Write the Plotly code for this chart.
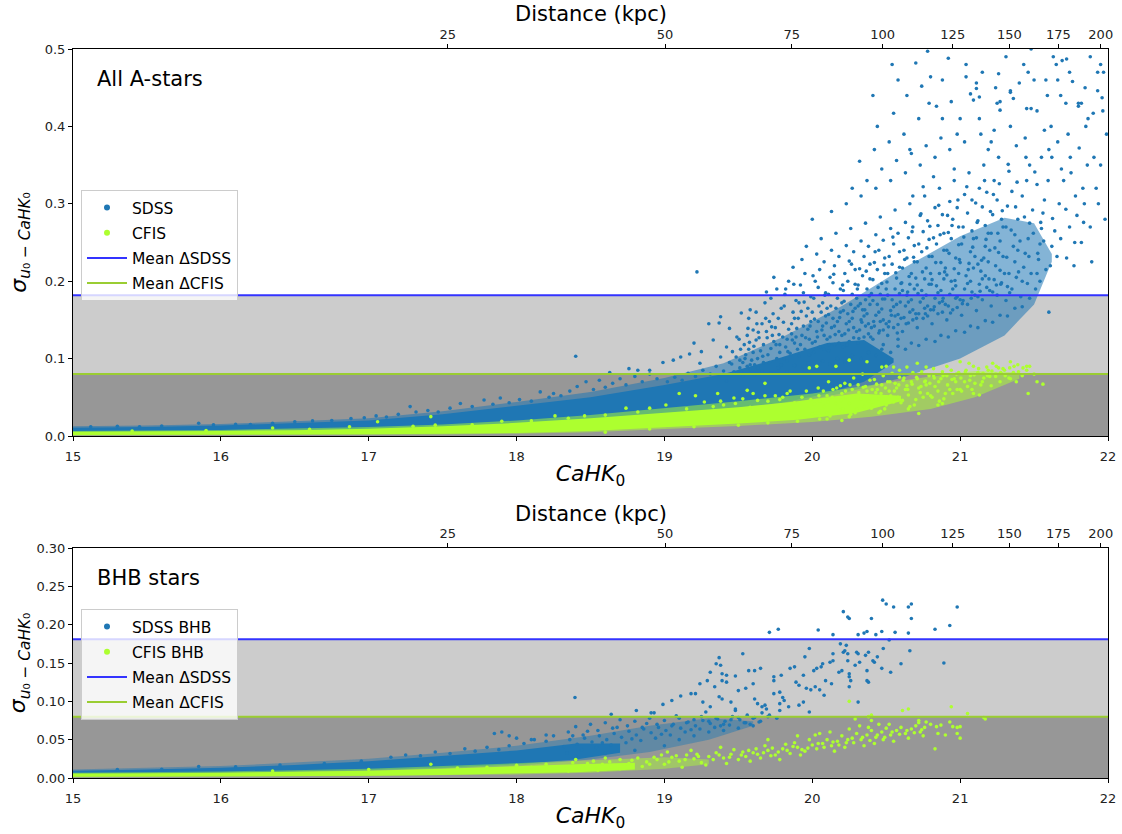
import plotly.graph_objects as go

FONT = "DejaVu Sans"

# ---------------- axis ticks ----------------
mag_ticks = [15, 16, 17, 18, 19, 20, 21, 22]
dist_labels = ["25", "50", "75", "100", "125", "150", "175", "200"]
dist_mag = [17.534, 19.004, 19.861, 20.476, 20.950, 21.333, 21.664, 21.951]
sigma_ticks_a = [0.0, 0.1, 0.2, 0.3, 0.4, 0.5]
sigma_ticks_b = [0.00, 0.05, 0.10, 0.15, 0.20, 0.25, 0.30]

# ---------------- mean offsets ----------------
mean_sdss_a = 0.182
mean_cfis_a = 0.080
mean_sdss_b = 0.181
mean_cfis_b = 0.080

# ---------------- density envelopes of the point clouds ----------------
# saturated core (every pixel covered)
sdss_a_core_m = [15.0, 15.5, 16.0, 16.5, 17.0, 17.5, 18.0, 18.5, 19.0, 19.4, 19.8, 20.1, 20.35, 20.55]
sdss_a_core_lo = [0.0050, 0.0055, 0.0060, 0.0070, 0.0085, 0.011, 0.015, 0.021, 0.029, 0.035, 0.043, 0.055, 0.070, 0.095]
sdss_a_core_hi = [0.0105, 0.0115, 0.0135, 0.0165, 0.0200, 0.028, 0.039, 0.050, 0.066, 0.080, 0.102, 0.120, 0.124, 0.100]
# crowded margin around the core
sdss_a_dense_m = [15.0, 15.5, 16.0, 16.5, 17.0, 17.5, 18.0, 18.5, 19.0, 19.4, 19.8, 20.2, 20.6, 21.0, 21.3, 21.5, 21.62]
sdss_a_dense_lo = [0.004, 0.0045, 0.005, 0.006, 0.0075, 0.0095, 0.013, 0.019, 0.027, 0.033, 0.041, 0.055, 0.075, 0.100, 0.130, 0.170, 0.225]
sdss_a_dense_hi = [0.0125, 0.0135, 0.0155, 0.019, 0.023, 0.032, 0.044, 0.057, 0.075, 0.094, 0.128, 0.168, 0.215, 0.258, 0.282, 0.275, 0.235]

cfis_a_core_m = [15.0, 15.5, 16.0, 16.5, 17.0, 17.5, 18.0, 18.5, 19.0, 19.5, 19.9, 20.3, 20.6]
cfis_a_core_lo = [0.0012, 0.0013, 0.0015, 0.0018, 0.0022, 0.0030, 0.0040, 0.0065, 0.011, 0.016, 0.021, 0.030, 0.045]
cfis_a_core_hi = [0.0055, 0.0060, 0.0065, 0.0075, 0.0095, 0.0125, 0.0170, 0.0230, 0.030, 0.037, 0.045, 0.055, 0.052]
cfis_a_dense_m = [15.0, 16.0, 17.0, 17.5, 18.0, 18.5, 19.0, 19.5, 20.0, 20.4, 20.8, 21.1, 21.4]
cfis_a_dense_lo = [0.0008, 0.0010, 0.0015, 0.0020, 0.0030, 0.0050, 0.009, 0.013, 0.018, 0.025, 0.035, 0.050, 0.074]
cfis_a_dense_hi = [0.0065, 0.0078, 0.0115, 0.0150, 0.0200, 0.0270, 0.036, 0.045, 0.055, 0.066, 0.077, 0.084, 0.082]

sdss_b_core_m = [15.0, 15.5, 16.0, 16.5, 17.0, 17.5, 18.0, 18.4, 18.7]
sdss_b_core_lo = [0.0045, 0.0055, 0.0068, 0.0085, 0.0105, 0.0135, 0.018, 0.024, 0.033]
sdss_b_core_hi = [0.0095, 0.0110, 0.0135, 0.0170, 0.0220, 0.0290, 0.036, 0.045, 0.045]
sdss_b_dense_m = [15.0, 16.0, 17.0, 17.5, 18.0, 18.5, 18.9, 19.3, 19.6]
sdss_b_dense_lo = [0.0035, 0.0058, 0.009, 0.012, 0.016, 0.024, 0.034, 0.050, 0.068]
sdss_b_dense_hi = [0.0110, 0.0155, 0.025, 0.033, 0.042, 0.055, 0.068, 0.078, 0.074]

cfis_b_core_m = [15.0, 15.5, 16.0, 16.5, 17.0, 17.5, 18.0, 18.4, 18.8]
cfis_b_core_lo = [0.0015, 0.0017, 0.0020, 0.0025, 0.0030, 0.0040, 0.0055, 0.0075, 0.011]
cfis_b_core_hi = [0.0058, 0.0063, 0.0070, 0.0080, 0.0095, 0.0120, 0.0150, 0.0180, 0.020]
cfis_b_dense_m = [15.0, 16.0, 17.0, 18.0, 18.5, 19.0, 19.3]
cfis_b_dense_lo = [0.0010, 0.0015, 0.0025, 0.0045, 0.007, 0.012, 0.018]
cfis_b_dense_hi = [0.0068, 0.0085, 0.0120, 0.0190, 0.023, 0.027, 0.024]

# ---------------- individual stars (CaHK0, sigma) ----------------
sdss_a_pts = [
    (15.12, 0.012), (15.30, 0.0125), (15.45, 0.0118), (15.60, 0.013), (15.85, 0.0165), (15.95, 0.0145),
    (16.10, 0.015), (16.20, 0.0148), (16.35, 0.0165), (16.50, 0.0185), (16.62, 0.0195), (16.75, 0.020),
    (16.88, 0.0225), (16.97, 0.0235), (17.05, 0.026), (17.12, 0.0245), (17.20, 0.028), (17.28, 0.038),
    (17.32, 0.031), (17.40, 0.033), (17.47, 0.031), (17.55, 0.036), (17.62, 0.042), (17.70, 0.038),
    (17.78, 0.0465), (17.84, 0.041), (17.89, 0.049), (17.95, 0.043), (18.02, 0.047), (18.10, 0.045),
    (18.16, 0.057), (18.22, 0.050), (18.25, 0.055), (18.30, 0.052), (18.36, 0.058), (18.41, 0.064),
    (18.47, 0.070), (18.52, 0.060), (18.56, 0.072), (18.60, 0.063), (18.65, 0.068), (18.70, 0.074),
    (18.74, 0.066), (18.80, 0.077), (18.85, 0.070), (18.90, 0.080), (18.95, 0.074),
    (18.40, 0.103), (18.63, 0.082), (18.76, 0.087), (18.82, 0.085), (18.90, 0.085), (18.99, 0.095),
    (19.06, 0.098), (19.11, 0.102), (19.17, 0.106), (19.20, 0.120), (19.25, 0.109), (19.30, 0.145),
    (19.38, 0.154), (19.37, 0.146), (19.44, 0.139), (19.52, 0.159), (19.58, 0.163), (19.57, 0.152),
    (19.49, 0.128), (19.33, 0.124), (19.42, 0.115), (19.46, 0.109), (19.60, 0.137), (19.62, 0.124),
    (19.51, 0.098), (19.38, 0.102), (19.24, 0.094), (19.56, 0.090), (19.22, 0.212),
    (19.02, 0.070), (19.07, 0.076), (19.12, 0.072), (19.16, 0.081), (19.21, 0.077), (19.26, 0.085),
    (19.31, 0.080), (19.35, 0.090), (19.40, 0.084), (19.44, 0.095),
    (19.51, 0.088), (19.53, 0.095), (19.55, 0.105), (19.57, 0.112), (19.54, 0.118), (19.59, 0.098),
    (19.56, 0.130), (19.52, 0.082), (19.58, 0.092), (19.60, 0.108),
    (19.61, 0.092), (19.63, 0.100), (19.65, 0.110), (19.67, 0.118), (19.64, 0.127), (19.69, 0.135),
    (19.66, 0.145), (19.62, 0.160), (19.68, 0.172), (19.70, 0.105), (19.63, 0.088), (19.67, 0.095),
    (19.69, 0.186),
    (19.71, 0.095), (19.72, 0.113), (19.74, 0.122), (19.73, 0.130), (19.76, 0.100), (19.75, 0.140),
    (19.77, 0.152), (19.78, 0.118), (19.79, 0.165), (19.72, 0.178), (19.76, 0.190), (19.80, 0.128),
    (19.74, 0.205), (19.78, 0.108), (19.71, 0.148), (19.79, 0.092),
    (19.81, 0.100), (19.82, 0.115), (19.83, 0.125), (19.84, 0.138), (19.85, 0.107), (19.86, 0.145),
    (19.87, 0.160), (19.88, 0.120), (19.89, 0.175), (19.82, 0.190), (19.86, 0.132), (19.84, 0.200),
    (19.90, 0.112), (19.88, 0.152), (19.83, 0.097), (19.87, 0.218), (19.81, 0.168), (19.89, 0.128),
    (19.91, 0.103), (19.92, 0.118), (19.93, 0.130), (19.94, 0.142), (19.95, 0.112), (19.96, 0.155),
    (19.97, 0.165), (19.98, 0.125), (19.99, 0.180), (19.92, 0.195), (19.95, 0.210), (19.97, 0.138),
    (19.93, 0.228), (20.00, 0.120), (19.99, 0.148), (19.91, 0.172), (19.96, 0.245), (19.98, 0.105),
    (19.94, 0.185), (20.00, 0.160),
    (20.01, 0.108), (20.02, 0.122), (20.03, 0.135), (20.04, 0.148), (20.05, 0.115), (20.06, 0.160),
    (20.07, 0.172), (20.08, 0.130), (20.09, 0.185), (20.02, 0.200), (20.05, 0.215), (20.07, 0.142),
    (20.03, 0.235), (20.10, 0.125), (20.09, 0.155), (20.01, 0.178), (20.06, 0.255), (20.08, 0.112),
    (20.04, 0.192), (20.10, 0.165), (20.00, 0.280), (20.08, 0.225),
    (20.11, 0.110), (20.12, 0.128), (20.13, 0.140), (20.14, 0.152), (20.15, 0.118), (20.16, 0.165),
    (20.17, 0.178), (20.18, 0.135), (20.19, 0.190), (20.12, 0.205), (20.15, 0.220), (20.17, 0.148),
    (20.13, 0.240), (20.20, 0.130), (20.19, 0.160), (20.11, 0.183), (20.16, 0.262), (20.18, 0.120),
    (20.14, 0.198), (20.20, 0.172), (20.13, 0.290), (20.18, 0.232), (20.15, 0.142), (20.11, 0.157),
    (20.21, 0.115), (20.22, 0.132), (20.23, 0.145), (20.24, 0.158), (20.25, 0.122), (20.26, 0.170),
    (20.27, 0.183), (20.28, 0.140), (20.29, 0.196), (20.22, 0.210), (20.25, 0.226), (20.27, 0.152),
    (20.23, 0.246), (20.30, 0.135), (20.29, 0.165), (20.21, 0.188), (20.26, 0.268), (20.28, 0.127),
    (20.24, 0.200), (20.30, 0.178), (20.23, 0.300), (20.28, 0.238), (20.25, 0.148), (20.21, 0.162),
    (20.27, 0.320), (20.29, 0.215),
    (20.31, 0.120), (20.32, 0.137), (20.33, 0.150), (20.34, 0.163), (20.35, 0.128), (20.36, 0.176),
    (20.37, 0.190), (20.38, 0.145), (20.39, 0.203), (20.32, 0.216), (20.35, 0.232), (20.37, 0.158),
    (20.33, 0.252), (20.40, 0.140), (20.39, 0.170), (20.31, 0.195), (20.36, 0.275), (20.38, 0.132),
    (20.34, 0.207), (20.40, 0.184), (20.33, 0.310), (20.38, 0.245), (20.35, 0.155), (20.31, 0.168),
    (20.37, 0.330), (20.39, 0.222), (20.32, 0.355), (20.36, 0.142),
    (20.41, 0.125), (20.42, 0.142), (20.43, 0.156), (20.44, 0.170), (20.45, 0.133), (20.46, 0.183),
    (20.47, 0.197), (20.48, 0.150), (20.49, 0.210), (20.42, 0.224), (20.45, 0.240), (20.47, 0.164),
    (20.43, 0.260), (20.50, 0.145), (20.49, 0.177), (20.41, 0.202), (20.46, 0.283), (20.48, 0.137),
    (20.44, 0.215), (20.50, 0.190), (20.43, 0.320), (20.48, 0.253), (20.45, 0.160), (20.41, 0.175),
    (20.47, 0.345), (20.49, 0.230), (20.42, 0.370), (20.46, 0.148), (20.44, 0.400), (20.48, 0.118),
    (20.51, 0.130), (20.52, 0.148), (20.53, 0.162), (20.54, 0.176), (20.55, 0.140), (20.56, 0.190),
    (20.57, 0.204), (20.58, 0.157), (20.59, 0.218), (20.52, 0.232), (20.55, 0.248), (20.57, 0.170),
    (20.53, 0.268), (20.60, 0.152), (20.59, 0.184), (20.51, 0.210), (20.56, 0.292), (20.58, 0.144),
    (20.54, 0.222), (20.60, 0.197), (20.53, 0.330), (20.58, 0.262), (20.55, 0.167), (20.51, 0.182),
    (20.57, 0.356), (20.59, 0.238), (20.52, 0.380), (20.56, 0.155), (20.54, 0.480), (20.58, 0.125),
    (20.55, 0.417),
    (20.61, 0.135), (20.62, 0.153), (20.63, 0.168), (20.64, 0.182), (20.65, 0.146), (20.66, 0.196),
    (20.67, 0.210), (20.68, 0.163), (20.69, 0.225), (20.62, 0.240), (20.65, 0.256), (20.67, 0.176),
    (20.63, 0.276), (20.70, 0.158), (20.69, 0.190), (20.61, 0.217), (20.66, 0.300), (20.68, 0.150),
    (20.64, 0.230), (20.70, 0.204), (20.63, 0.340), (20.68, 0.270), (20.65, 0.173), (20.61, 0.188),
    (20.67, 0.365), (20.69, 0.246), (20.62, 0.390), (20.66, 0.160), (20.64, 0.440), (20.70, 0.482),
    (20.68, 0.310),
    (20.71, 0.140), (20.72, 0.158), (20.73, 0.173), (20.74, 0.188), (20.75, 0.152), (20.76, 0.203),
    (20.77, 0.217), (20.78, 0.168), (20.79, 0.232), (20.72, 0.248), (20.75, 0.264), (20.77, 0.182),
    (20.73, 0.285), (20.80, 0.163), (20.79, 0.196), (20.71, 0.225), (20.76, 0.310), (20.78, 0.155),
    (20.74, 0.238), (20.80, 0.210), (20.73, 0.350), (20.78, 0.278), (20.75, 0.178), (20.71, 0.195),
    (20.77, 0.375), (20.79, 0.254), (20.72, 0.410), (20.76, 0.165), (20.74, 0.452), (20.78, 0.497),
    (20.80, 0.464), (20.75, 0.322),
    (20.81, 0.145), (20.82, 0.163), (20.83, 0.178), (20.84, 0.194), (20.85, 0.158), (20.86, 0.210),
    (20.87, 0.224), (20.88, 0.174), (20.89, 0.240), (20.82, 0.256), (20.85, 0.272), (20.87, 0.188),
    (20.83, 0.295), (20.90, 0.170), (20.89, 0.203), (20.81, 0.232), (20.86, 0.320), (20.88, 0.160),
    (20.84, 0.426), (20.90, 0.217), (20.83, 0.360), (20.88, 0.286), (20.85, 0.185), (20.81, 0.202),
    (20.87, 0.385), (20.89, 0.262), (20.82, 0.335), (20.86, 0.172), (20.84, 0.248), (20.88, 0.410),
    (20.91, 0.150), (20.92, 0.168), (20.93, 0.183), (20.94, 0.200), (20.95, 0.163), (20.96, 0.216),
    (20.97, 0.230), (20.98, 0.180), (20.99, 0.247), (20.92, 0.263), (20.95, 0.280), (20.97, 0.194),
    (20.93, 0.303), (21.00, 0.176), (20.99, 0.210), (20.91, 0.240), (20.96, 0.330), (20.98, 0.166),
    (20.94, 0.432), (21.00, 0.224), (20.93, 0.370), (20.98, 0.295), (20.95, 0.190), (20.91, 0.208),
    (20.92, 0.488), (20.99, 0.270), (20.96, 0.345), (20.97, 0.178), (20.94, 0.255), (20.98, 0.390),
    (21.01, 0.156), (21.02, 0.175), (21.03, 0.190), (21.04, 0.207), (21.05, 0.170), (21.06, 0.223),
    (21.07, 0.238), (21.08, 0.186), (21.09, 0.255), (21.02, 0.270), (21.05, 0.288), (21.07, 0.200),
    (21.03, 0.312), (21.10, 0.182), (21.09, 0.217), (21.01, 0.248), (21.06, 0.340), (21.04, 0.480),
    (21.04, 0.464), (21.10, 0.232), (21.03, 0.380), (21.08, 0.305), (21.05, 0.197), (21.07, 0.442),
    (21.09, 0.434), (21.11, 0.456), (21.11, 0.449), (21.08, 0.265),
    (21.11, 0.162), (21.12, 0.180), (21.13, 0.196), (21.14, 0.213), (21.15, 0.176), (21.16, 0.230),
    (21.17, 0.245), (21.18, 0.192), (21.19, 0.262), (21.12, 0.278), (21.15, 0.296), (21.17, 0.207),
    (21.13, 0.320), (21.20, 0.188), (21.19, 0.225), (21.11, 0.256), (21.16, 0.350), (21.13, 0.438),
    (21.14, 0.390), (21.20, 0.240), (21.13, 0.410), (21.18, 0.315), (21.15, 0.203), (21.17, 0.272),
    (21.19, 0.370), (21.12, 0.222),
    (21.21, 0.168), (21.22, 0.186), (21.23, 0.202), (21.24, 0.220), (21.25, 0.182), (21.26, 0.237),
    (21.27, 0.252), (21.28, 0.198), (21.29, 0.270), (21.22, 0.286), (21.25, 0.305), (21.27, 0.214),
    (21.23, 0.330), (21.26, 0.468), (21.24, 0.450), (21.25, 0.430), (21.27, 0.432), (21.27, 0.421),
    (21.29, 0.232), (21.21, 0.262), (21.26, 0.360), (21.28, 0.280), (21.23, 0.395), (21.30, 0.210),
    (21.31, 0.175), (21.32, 0.193), (21.33, 0.210), (21.34, 0.446), (21.34, 0.444), (21.35, 0.190),
    (21.36, 0.436), (21.37, 0.260), (21.38, 0.205), (21.39, 0.280), (21.32, 0.297), (21.35, 0.316),
    (21.37, 0.225), (21.33, 0.342), (21.36, 0.245), (21.31, 0.270), (21.38, 0.375), (21.40, 0.456),
    (21.34, 0.400), (21.39, 0.240),
    (21.41, 0.180), (21.42, 0.200), (21.43, 0.218), (21.44, 0.236), (21.45, 0.423), (21.48, 0.423),
    (21.46, 0.255), (21.47, 0.275), (21.48, 0.210), (21.49, 0.292), (21.42, 0.310), (21.45, 0.330),
    (21.47, 0.350), (21.43, 0.480), (21.46, 0.470), (21.48, 0.500), (21.50, 0.460), (21.44, 0.385),
    (21.51, 0.190), (21.52, 0.210), (21.53, 0.228), (21.54, 0.248), (21.55, 0.268), (21.56, 0.288),
    (21.57, 0.305), (21.58, 0.460), (21.59, 0.440), (21.52, 0.325), (21.55, 0.360), (21.58, 0.215),
    (21.60, 0.160), (21.57, 0.395), (21.54, 0.200),
    (21.61, 0.220), (21.62, 0.245), (21.63, 0.490), (21.64, 0.265), (21.65, 0.480), (21.66, 0.460),
    (21.67, 0.300), (21.68, 0.440), (21.69, 0.485), (21.70, 0.330), (21.62, 0.360), (21.66, 0.380),
    (21.68, 0.255), (21.72, 0.487),
    (21.72, 0.230), (21.74, 0.270), (21.76, 0.458), (21.78, 0.310), (21.80, 0.426), (21.80, 0.430),
    (21.75, 0.340), (21.73, 0.390), (21.79, 0.285), (21.77, 0.220),
    (21.82, 0.250), (21.84, 0.300), (21.86, 0.350), (21.88, 0.270), (21.90, 0.417), (21.85, 0.400),
    (21.83, 0.320), (21.89, 0.225),
    (21.93, 0.470), (21.95, 0.480), (21.97, 0.470), (21.93, 0.446), (21.96, 0.437), (21.92, 0.320),
    (21.95, 0.350), (21.98, 0.280), (21.99, 0.390),
    # crowded lower rim and interior of the faint cloud
    (19.42, 0.071), (19.47, 0.083), (19.53, 0.077), (19.58, 0.086), (19.61, 0.079), (19.66, 0.084),
    (19.72, 0.081), (19.77, 0.088), (19.83, 0.083), (19.88, 0.091), (19.93, 0.087), (19.97, 0.094),
    (20.03, 0.090), (20.07, 0.097), (20.12, 0.093), (20.17, 0.100), (20.22, 0.096), (20.27, 0.104),
    (20.33, 0.100), (20.38, 0.108), (20.43, 0.104), (20.47, 0.112), (20.53, 0.108), (20.58, 0.116),
    (20.63, 0.112), (20.67, 0.120), (20.72, 0.117), (20.77, 0.125), (20.83, 0.122), (20.87, 0.130),
    (20.92, 0.128), (20.97, 0.136), (21.03, 0.134), (21.07, 0.142), (21.12, 0.140), (21.17, 0.149),
    (21.22, 0.147), (21.27, 0.156), (21.32, 0.155), (21.37, 0.165), (21.42, 0.167), (21.47, 0.178),
    (19.455, 0.093), (19.485, 0.102), (19.515, 0.112), (19.545, 0.100), (19.575, 0.121), (19.605, 0.116),
    (19.635, 0.134), (19.665, 0.103), (19.695, 0.127), (19.725, 0.141), (19.755, 0.118), (19.735, 0.158),
    (19.685, 0.152), (19.625, 0.145), (19.565, 0.139), (19.505, 0.125),
    (19.775, 0.131), (19.805, 0.147), (19.835, 0.109), (19.865, 0.124), (19.895, 0.139), (19.925, 0.161),
    (19.955, 0.127), (19.985, 0.142), (20.015, 0.151), (20.045, 0.168), (19.815, 0.183), (19.875, 0.196),
    (19.945, 0.173), (20.005, 0.207), (20.035, 0.128), (19.905, 0.152),
    (20.065, 0.137), (20.095, 0.146), (20.125, 0.168), (20.155, 0.131), (20.185, 0.153), (20.215, 0.174),
    (20.245, 0.137), (20.275, 0.161), (20.305, 0.190), (20.335, 0.147), (20.085, 0.182), (20.145, 0.209),
    (20.205, 0.195), (20.265, 0.222), (20.325, 0.171), (20.115, 0.118), (20.235, 0.118), (20.315, 0.126),
    (20.355, 0.163), (20.385, 0.181), (20.415, 0.148), (20.445, 0.192), (20.475, 0.177), (20.505, 0.199),
    (20.535, 0.156), (20.565, 0.211), (20.595, 0.173), (20.625, 0.228), (20.365, 0.213), (20.425, 0.238),
    (20.485, 0.221), (20.545, 0.257), (20.605, 0.198), (20.645, 0.186), (20.395, 0.128), (20.455, 0.136),
    (20.515, 0.141), (20.575, 0.133), (20.635, 0.145),
    (20.655, 0.206), (20.685, 0.231), (20.715, 0.184), (20.745, 0.212), (20.775, 0.243), (20.805, 0.196),
    (20.835, 0.224), (20.865, 0.260), (20.895, 0.212), (20.925, 0.236), (20.945, 0.272), (20.675, 0.264),
    (20.735, 0.287), (20.795, 0.271), (20.855, 0.298), (20.915, 0.285), (20.705, 0.152), (20.765, 0.158),
    (20.825, 0.167), (20.885, 0.178), (20.935, 0.159),
    (20.965, 0.201), (20.995, 0.228), (21.025, 0.257), (21.055, 0.215), (21.085, 0.244), (21.115, 0.276),
    (21.145, 0.227), (21.175, 0.254), (21.205, 0.290), (21.235, 0.243), (20.985, 0.305), (21.045, 0.322),
    (21.105, 0.301), (21.165, 0.330), (21.225, 0.312), (21.015, 0.171), (21.075, 0.178), (21.135, 0.187),
    (21.195, 0.203), (21.245, 0.195),
    (21.255, 0.262), (21.285, 0.291), (21.315, 0.231), (21.345, 0.266), (21.375, 0.296), (21.405, 0.252),
    (21.435, 0.283), (21.465, 0.232), (21.495, 0.262), (21.525, 0.236), (21.265, 0.326), (21.325, 0.351),
    (21.385, 0.328), (21.445, 0.360), (21.505, 0.341), (21.275, 0.196), (21.335, 0.185), (21.395, 0.212),
    (21.455, 0.197), (21.545, 0.276),
    (21.565, 0.252), (21.595, 0.330), (21.625, 0.281), (21.655, 0.232), (21.685, 0.345), (21.715, 0.293),
    (21.745, 0.360), (21.775, 0.250), (21.805, 0.372), (21.835, 0.276), (21.865, 0.410), (21.905, 0.360),
    (21.935, 0.300), (21.965, 0.420), (21.615, 0.400), (21.715, 0.430), (21.845, 0.450),
    (20.41, 0.440), (20.58, 0.460), (20.66, 0.370), (20.79, 0.430), (20.88, 0.460), (21.00, 0.410),
    (21.15, 0.470), (21.21, 0.380), (21.31, 0.490), (21.52, 0.420), (21.60, 0.370), (21.74, 0.470),
    (21.82, 0.430), (21.88, 0.490),
]

cfis_a_pts = [
    (15.40, 0.0065), (15.90, 0.0072), (16.35, 0.0104), (16.60, 0.0085), (16.87, 0.012), (17.06, 0.0185),
    (17.30, 0.0125), (17.42, 0.025), (17.45, 0.014), (17.70, 0.0145), (17.90, 0.019), (18.10, 0.0195),
    (18.26, 0.026), (18.35, 0.023), (18.46, 0.026), (18.60, 0.027), (18.74, 0.036), (18.82, 0.031),
    (18.90, 0.036), (19.01, 0.040), (19.10, 0.055), (19.15, 0.035), (19.21, 0.052), (19.27, 0.044),
    (19.36, 0.055), (19.40, 0.040), (19.47, 0.049), (19.56, 0.059), (19.60, 0.055), (19.68, 0.068),
    (19.70, 0.045), (19.75, 0.052), (19.80, 0.050), (19.85, 0.058),
    (18.60, 0.005), (18.90, 0.009), (19.20, 0.012), (19.50, 0.014), (19.70, 0.017), (19.90, 0.019),
    (20.10, 0.022), (20.20, 0.020),
    (19.98, 0.088), (20.03, 0.090), (20.16, 0.090), (20.25, 0.098), (20.37, 0.096), (20.47, 0.089),
    (20.50, 0.090), (20.55, 0.089), (20.59, 0.085), (20.64, 0.089), (20.71, 0.094), (20.77, 0.089),
    (20.82, 0.087), (20.91, 0.090), (21.00, 0.096), (21.06, 0.094), (21.09, 0.090), (21.18, 0.089),
    (21.22, 0.094), (21.29, 0.087), (21.34, 0.096), (21.39, 0.092), (21.45, 0.090), (21.47, 0.090),
    (21.56, 0.067), (21.46, 0.055), (21.34, 0.074), (21.20, 0.077), (21.24, 0.077), (21.09, 0.055),
    (21.13, 0.053), (20.88, 0.042), (20.72, 0.029),
    (20.02, 0.030), (20.05, 0.045), (20.08, 0.038), (20.10, 0.052), (20.12, 0.026), (20.14, 0.060),
    (20.16, 0.042), (20.18, 0.034), (20.20, 0.055), (20.04, 0.062), (20.11, 0.070), (20.19, 0.065),
    (20.21, 0.035), (20.23, 0.050), (20.25, 0.042), (20.27, 0.060), (20.29, 0.030), (20.31, 0.066),
    (20.33, 0.048), (20.35, 0.038), (20.37, 0.058), (20.39, 0.072), (20.22, 0.068), (20.28, 0.075),
    (20.34, 0.080), (20.38, 0.045), (20.26, 0.028), (20.36, 0.064),
    (20.41, 0.040), (20.43, 0.056), (20.45, 0.048), (20.47, 0.066), (20.49, 0.035), (20.51, 0.070),
    (20.53, 0.052), (20.55, 0.044), (20.57, 0.062), (20.59, 0.076), (20.42, 0.073), (20.48, 0.078),
    (20.54, 0.081), (20.58, 0.050), (20.46, 0.032), (20.56, 0.068), (20.44, 0.060), (20.52, 0.058),
    (20.61, 0.046), (20.63, 0.060), (20.65, 0.053), (20.67, 0.070), (20.69, 0.040), (20.71, 0.074),
    (20.73, 0.056), (20.75, 0.050), (20.77, 0.066), (20.79, 0.078), (20.62, 0.075), (20.68, 0.082),
    (20.74, 0.083), (20.78, 0.055), (20.66, 0.038), (20.76, 0.070), (20.64, 0.065), (20.72, 0.062),
    (20.81, 0.050), (20.83, 0.064), (20.85, 0.058), (20.87, 0.074), (20.89, 0.048), (20.91, 0.078),
    (20.93, 0.060), (20.95, 0.055), (20.97, 0.070), (20.99, 0.082), (20.82, 0.078), (20.88, 0.083),
    (20.94, 0.085), (20.98, 0.060), (20.86, 0.045), (20.96, 0.074),
    (21.01, 0.058), (21.03, 0.070), (21.05, 0.064), (21.07, 0.078), (21.10, 0.068), (21.12, 0.082),
    (21.14, 0.066), (21.16, 0.075), (21.19, 0.085), (21.04, 0.085), (21.08, 0.060), (21.15, 0.070),
    (21.21, 0.065), (21.24, 0.080), (21.27, 0.070), (21.30, 0.085), (21.33, 0.075), (21.36, 0.082),
    (21.26, 0.088), (21.38, 0.070), (21.42, 0.078), (21.45, 0.085), (21.50, 0.080), (21.52, 0.070),
    # crowded ridge of the faint end
    (19.33, 0.038), (19.38, 0.045), (19.43, 0.033), (19.48, 0.042), (19.53, 0.048), (19.58, 0.037),
    (19.63, 0.046), (19.68, 0.052), (19.73, 0.039), (19.78, 0.047), (19.83, 0.055), (19.88, 0.043),
    (19.93, 0.050), (19.96, 0.058), (19.99, 0.047), (20.015, 0.041), (20.045, 0.052), (20.075, 0.058),
    (20.105, 0.044), (20.135, 0.050), (20.165, 0.062), (20.195, 0.046), (20.225, 0.058), (20.255, 0.066),
    (20.285, 0.050), (20.315, 0.056), (20.345, 0.063), (20.375, 0.052), (20.405, 0.060), (20.435, 0.067),
    (20.465, 0.055), (20.495, 0.062), (20.525, 0.070), (20.555, 0.058), (20.585, 0.066), (20.615, 0.072),
    (20.645, 0.060), (20.675, 0.067), (20.705, 0.076), (20.735, 0.064), (20.765, 0.071), (20.795, 0.068),
    (20.825, 0.075), (20.855, 0.070), (20.885, 0.078), (20.915, 0.066), (20.945, 0.073), (20.975, 0.080),
    (21.005, 0.075), (21.035, 0.083), (21.065, 0.072), (21.095, 0.079), (21.125, 0.087), (21.155, 0.081),
    (21.185, 0.078), (21.215, 0.084), (21.245, 0.090), (21.275, 0.082), (21.305, 0.078), (21.335, 0.088),
    (21.365, 0.090), (21.395, 0.083), (21.425, 0.088),
    (19.90, 0.025), (20.00, 0.028), (20.10, 0.030), (20.20, 0.032), (20.30, 0.035), (20.40, 0.036),
    (20.50, 0.040), (20.60, 0.043), (20.70, 0.047), (20.80, 0.052), (20.90, 0.055), (21.00, 0.060),
    (20.05, 0.022), (20.25, 0.025), (20.45, 0.030), (20.65, 0.035), (20.85, 0.040),
]

sdss_b_pts = [
    (15.30, 0.011), (15.60, 0.0115), (15.85, 0.015), (16.10, 0.0145), (16.40, 0.017), (16.70, 0.019),
    (16.95, 0.022), (17.15, 0.027), (17.25, 0.030), (17.35, 0.029), (17.45, 0.034), (17.55, 0.032),
    (17.65, 0.038), (17.72, 0.035), (17.80, 0.040), (17.88, 0.037), (17.95, 0.042), (18.05, 0.045),
    (18.12, 0.050), (18.20, 0.048), (18.25, 0.055), (17.85, 0.058), (17.90, 0.060), (17.95, 0.055),
    (18.10, 0.050), (18.00, 0.052), (18.20, 0.056),
    (18.35, 0.060), (18.40, 0.067), (18.45, 0.056), (18.50, 0.070), (18.55, 0.062), (18.60, 0.072),
    (18.65, 0.065), (18.70, 0.076), (18.75, 0.068), (18.80, 0.074), (18.85, 0.066), (18.90, 0.078),
    (18.95, 0.070), (19.00, 0.075), (19.05, 0.068), (19.10, 0.078), (19.15, 0.072), (19.20, 0.076),
    (19.25, 0.080), (19.30, 0.074), (19.35, 0.078), (19.40, 0.070), (19.45, 0.076), (19.50, 0.079),
    (19.55, 0.072), (19.60, 0.078), (19.65, 0.074), (19.70, 0.080),
    (18.40, 0.028), (18.60, 0.032), (18.80, 0.036), (19.00, 0.042), (19.10, 0.050), (19.20, 0.055),
    (19.30, 0.060), (19.40, 0.062), (19.50, 0.065), (19.60, 0.068),
    (18.395, 0.105), (18.81, 0.088), (18.64, 0.083), (18.91, 0.085), (18.93, 0.085), (18.99, 0.096),
    (19.05, 0.101), (19.11, 0.107), (19.18, 0.110), (19.21, 0.110), (19.24, 0.123), (19.29, 0.127),
    (19.31, 0.138), (19.35, 0.149), (19.38, 0.147), (19.37, 0.157), (19.39, 0.136), (19.42, 0.134),
    (19.39, 0.127), (19.42, 0.125), (19.34, 0.119), (19.37, 0.106), (19.39, 0.103), (19.26, 0.099),
    (19.31, 0.093), (19.48, 0.133), (19.53, 0.162), (19.50, 0.114), (19.55, 0.117), (19.45, 0.099),
    (19.48, 0.088), (19.57, 0.140), (19.61, 0.140), (19.65, 0.143), (19.60, 0.123), (19.61, 0.103),
    (19.63, 0.097), (19.66, 0.093), (19.69, 0.090), (19.74, 0.132), (19.74, 0.127), (19.79, 0.134),
    (19.74, 0.110), (19.78, 0.112), (19.80, 0.105), (19.81, 0.101), (19.78, 0.097), (19.84, 0.093),
    (19.85, 0.143), (19.88, 0.145), (19.89, 0.125), (19.91, 0.121), (19.95, 0.158), (19.98, 0.169),
    (19.94, 0.134), (19.96, 0.117), (19.99, 0.115), (20.02, 0.119), (20.05, 0.115), (19.94, 0.099),
    (19.91, 0.095), (19.98, 0.086), (20.01, 0.140), (20.03, 0.143), (20.06, 0.145), (20.07, 0.149),
    (20.12, 0.151), (20.14, 0.153), (20.14, 0.162), (20.09, 0.127), (20.13, 0.123), (20.08, 0.108),
    (20.18, 0.138), (20.20, 0.140), (20.19, 0.175), (20.23, 0.173), (20.22, 0.166), (20.21, 0.164),
    (20.24, 0.162), (20.24, 0.153), (20.25, 0.136), (20.25, 0.132), (20.26, 0.127), (20.25, 0.119),
    (20.31, 0.099), (20.30, 0.164), (20.31, 0.162), (20.29, 0.147), (20.32, 0.151), (20.36, 0.160),
    (20.38, 0.164), (20.37, 0.140), (20.37, 0.127), (20.38, 0.125), (20.41, 0.153), (20.42, 0.151),
    (20.44, 0.158), (20.47, 0.143), (20.48, 0.169), (20.52, 0.180), (20.53, 0.138), (20.60, 0.149),
    (20.66, 0.166), (20.89, 0.150),
    (19.71, 0.190), (19.77, 0.194), (20.04, 0.193), (20.14, 0.187), (20.31, 0.187), (20.35, 0.189),
    (20.37, 0.191), (20.43, 0.187), (20.47, 0.191), (20.56, 0.190), (20.65, 0.189), (20.83, 0.194),
    (20.93, 0.199), (20.25, 0.208), (20.40, 0.208), (20.67, 0.208),
    (20.476, 0.232), (20.50, 0.227), (20.55, 0.223), (20.65, 0.223), (20.67, 0.227), (20.98, 0.223),
    (20.21, 0.217), (20.24, 0.210),
    # crowded part of the faint band
    (18.32, 0.041), (18.36, 0.050), (18.41, 0.044), (18.46, 0.052), (18.51, 0.047), (18.56, 0.055),
    (18.61, 0.050), (18.66, 0.058), (18.71, 0.053), (18.76, 0.061), (18.81, 0.056), (18.86, 0.064),
    (18.91, 0.059), (18.96, 0.066), (19.01, 0.062), (19.06, 0.070), (19.11, 0.065), (19.16, 0.073),
    (19.21, 0.068), (19.26, 0.075), (19.31, 0.071), (19.36, 0.077), (19.41, 0.074), (19.46, 0.080),
    (19.51, 0.076), (19.56, 0.082), (19.61, 0.079), (19.66, 0.085), (19.71, 0.082), (19.76, 0.078),
    (18.34, 0.033), (18.44, 0.037), (18.54, 0.040), (18.64, 0.043), (18.74, 0.046), (18.84, 0.049),
    (18.94, 0.052), (19.04, 0.056), (19.14, 0.060), (19.24, 0.064), (19.34, 0.066), (19.44, 0.069),
    (19.54, 0.072), (19.64, 0.073),
    (18.38, 0.055), (18.48, 0.061), (18.58, 0.046), (18.68, 0.066), (18.78, 0.051), (18.88, 0.071),
    (18.98, 0.057), (19.08, 0.081), (19.18, 0.063), (19.28, 0.086), (19.38, 0.068), (19.48, 0.090),
    (19.58, 0.070), (19.68, 0.095), (19.78, 0.088),
]

cfis_b_pts = [
    (16.35, 0.009), (17.00, 0.011), (17.42, 0.018), (17.60, 0.013), (17.80, 0.014), (18.00, 0.0165),
    (18.10, 0.014), (18.20, 0.018),
    (18.32, 0.012), (18.38, 0.020), (18.45, 0.016), (18.52, 0.022), (18.58, 0.018), (18.64, 0.014),
    (18.70, 0.024), (18.76, 0.019), (18.82, 0.026), (18.88, 0.021), (18.35, 0.009), (18.55, 0.010),
    (18.70, 0.012), (18.60, 0.026), (18.40, 0.024), (18.85, 0.015),
    (18.95, 0.024), (19.00, 0.018), (19.05, 0.027), (19.10, 0.022), (19.15, 0.030), (19.20, 0.025),
    (19.25, 0.020), (19.30, 0.028), (19.35, 0.033), (19.40, 0.026), (19.45, 0.031), (19.50, 0.024),
    (19.02, 0.034), (19.18, 0.036), (19.28, 0.017), (19.42, 0.019), (19.12, 0.014), (19.38, 0.040),
    (18.98, 0.030), (19.22, 0.031), (19.47, 0.037),
    (19.55, 0.028), (19.60, 0.033), (19.65, 0.026), (19.70, 0.036), (19.75, 0.030), (19.80, 0.038),
    (19.85, 0.032), (19.90, 0.040), (19.95, 0.035), (20.00, 0.043), (19.58, 0.022), (19.68, 0.042),
    (19.78, 0.024), (19.88, 0.046), (19.62, 0.038), (19.72, 0.029), (19.82, 0.044), (19.92, 0.030),
    (19.98, 0.050), (19.53, 0.034), (19.70, 0.050), (19.90, 0.055),
    (20.03, 0.038), (20.07, 0.045), (20.10, 0.050), (20.13, 0.042), (20.17, 0.048), (20.20, 0.055),
    (20.23, 0.046), (20.27, 0.052), (20.30, 0.058), (20.33, 0.050), (20.37, 0.056), (20.40, 0.062),
    (20.43, 0.053), (20.47, 0.060), (20.50, 0.065), (20.05, 0.058), (20.15, 0.035), (20.25, 0.064),
    (20.35, 0.042), (20.45, 0.070), (20.12, 0.060), (20.22, 0.040), (20.32, 0.068), (20.42, 0.045),
    (20.02, 0.056), (20.38, 0.066), (20.48, 0.050),
    (20.53, 0.056), (20.57, 0.062), (20.60, 0.066), (20.63, 0.058), (20.67, 0.064), (20.70, 0.068),
    (20.73, 0.060), (20.76, 0.066), (20.80, 0.070), (20.55, 0.048), (20.65, 0.052), (20.75, 0.055),
    (20.52, 0.070), (20.72, 0.072), (20.25, 0.100), (20.61, 0.088), (20.65, 0.090), (20.94, 0.093),
    (21.05, 0.084), (21.16, 0.079), (21.17, 0.077), (20.29, 0.077), (20.38, 0.080), (20.40, 0.082),
    (20.72, 0.075), (20.77, 0.073), (20.84, 0.067), (20.87, 0.069), (20.93, 0.073), (20.95, 0.067),
    (20.98, 0.066), (21.00, 0.067), (20.98, 0.058), (20.85, 0.058), (20.90, 0.056), (20.83, 0.038),
    (21.00, 0.052), (20.40, 0.075),
    (18.42, 0.013), (18.48, 0.019), (18.53, 0.015), (18.63, 0.021), (18.73, 0.017), (18.78, 0.023),
    (18.90, 0.018), (18.93, 0.027), (19.03, 0.021), (19.08, 0.029), (19.14, 0.024), (19.23, 0.028),
    (19.33, 0.024), (19.37, 0.030), (19.44, 0.027), (19.52, 0.030), (19.57, 0.036), (19.63, 0.031),
    (19.67, 0.033), (19.73, 0.039), (19.77, 0.034), (19.83, 0.036), (19.87, 0.041), (19.93, 0.037),
    (19.97, 0.039), (20.04, 0.045), (20.08, 0.040), (20.14, 0.047), (20.18, 0.043), (20.24, 0.050),
    (20.28, 0.046), (20.34, 0.053), (20.39, 0.049), (20.44, 0.056), (20.49, 0.053), (20.54, 0.060),
    (20.59, 0.057), (20.64, 0.062), (20.69, 0.059), (20.74, 0.063),
]

# ---------------- styling ----------------
BLUE = "#1f77b4"
GREEN = "#adff2f"
LINE_BLUE = "#3333ff"
LINE_GREEN = "#9acd32"
DARK_GREY = "#979797"
LIGHT_GREY = "#cccccc"
W, H = 1122, 834
MARKER = 3.6

fig = go.Figure()


def envelope(xa, ya, m, lo, hi, col, alpha):
    fig.add_trace(go.Scatter(x=list(m) + list(m)[::-1], y=list(lo) + list(hi)[::-1],
                             mode="lines", fill="toself", fillcolor=col, opacity=alpha,
                             line=dict(width=0, color=col), showlegend=False,
                             hoverinfo="skip", xaxis=xa, yaxis=ya))


def add_panel(xa, ya, leg, layers_s, layers_c, pts_s, pts_c, mean_s, mean_c, names):
    # grey bands between zero, the CFIS mean and the SDSS mean
    fig.add_trace(go.Scatter(x=[15, 22], y=[mean_c, mean_c], mode="lines", line=dict(width=0),
                             fill="tozeroy", fillcolor=DARK_GREY, showlegend=False,
                             hoverinfo="skip", xaxis=xa, yaxis=ya))
    fig.add_trace(go.Scatter(x=[15, 22], y=[mean_s, mean_s], mode="lines", line=dict(width=0),
                             fill="tonexty", fillcolor=LIGHT_GREY, showlegend=False,
                             hoverinfo="skip", xaxis=xa, yaxis=ya))
    for layers, pts, col in ((layers_s, pts_s, BLUE), (layers_c, pts_c, GREEN)):
        for m, lo, hi, alpha in layers:
            envelope(xa, ya, m, lo, hi, col, alpha)
        px, py = zip(*pts)
        fig.add_trace(go.Scatter(x=px, y=py, mode="markers",
                                 marker=dict(size=MARKER, color=col, line=dict(width=0)),
                                 showlegend=False, hoverinfo="skip", xaxis=xa, yaxis=ya))
    for val, col in ((mean_s, LINE_BLUE), (mean_c, LINE_GREEN)):
        fig.add_trace(go.Scatter(x=[15, 22], y=[val, val], mode="lines",
                                 line=dict(width=2, color=col), showlegend=False,
                                 hoverinfo="skip", xaxis=xa, yaxis=ya))
    # legend keys
    keys = [
        dict(mode="markers", name=names[0], marker=dict(size=6, color=BLUE)),
        dict(mode="markers", name=names[1], marker=dict(size=6, color=GREEN)),
        dict(mode="lines", name="Mean ΔSDSS", line=dict(width=2, color=LINE_BLUE)),
        dict(mode="lines", name="Mean ΔCFIS", line=dict(width=2, color=LINE_GREEN)),
    ]
    for i, k in enumerate(keys):
        fig.add_trace(go.Scatter(x=[None], y=[None], legend=leg, legendgroup=f"{leg}{i}",
                                 xaxis=xa, yaxis=ya, **k))


add_panel("x", "y", "legend",
          [(sdss_a_dense_m, sdss_a_dense_lo, sdss_a_dense_hi, 0.55),
           (sdss_a_core_m, sdss_a_core_lo, sdss_a_core_hi, 1.0)],
          [(cfis_a_dense_m, cfis_a_dense_lo, cfis_a_dense_hi, 0.5),
           (cfis_a_core_m, cfis_a_core_lo, cfis_a_core_hi, 1.0)],
          sdss_a_pts, cfis_a_pts, mean_sdss_a, mean_cfis_a, ("SDSS", "CFIS"))
add_panel("x2", "y2", "legend2",
          [(sdss_b_dense_m, sdss_b_dense_lo, sdss_b_dense_hi, 0.45),
           (sdss_b_core_m, sdss_b_core_lo, sdss_b_core_hi, 1.0)],
          [(cfis_b_dense_m, cfis_b_dense_lo, cfis_b_dense_hi, 0.45),
           (cfis_b_core_m, cfis_b_core_lo, cfis_b_core_hi, 1.0)],
          sdss_b_pts, cfis_b_pts, mean_sdss_b, mean_cfis_b, ("SDSS BHB", "CFIS BHB"))

# carriers for the distance axes along the top of each panel
fig.add_trace(go.Scatter(x=[15, 22], y=[0, 0], mode="markers", marker=dict(opacity=0),
                         showlegend=False, hoverinfo="skip", xaxis="x3", yaxis="y"))
fig.add_trace(go.Scatter(x=[15, 22], y=[0, 0], mode="markers", marker=dict(opacity=0),
                         showlegend=False, hoverinfo="skip", xaxis="x4", yaxis="y2"))

x_dom = [73 / W, 1108 / W]
ya_dom = [1 - 436 / H, 1 - 49 / H]
yb_dom = [1 - 778 / H, 1 - 548 / H]
tickfont = dict(family=FONT, size=13, color="#222222")

ytitle = "<i>σ</i><sub><i>u</i>₀ − <i>CaHK</i>₀</sub>"
xtitle = "<i>CaHK</i><sub>0</sub>"
xtitle_d = dict(text=xtitle, font=dict(family=FONT, size=22, color="black"), standoff=3)

common_x = dict(range=[15, 22], domain=x_dom, showgrid=False, zeroline=False,
                showline=True, linecolor="black", linewidth=1, ticks="outside",
                ticklen=4, tickcolor="black", tickfont=tickfont, automargin=False)
common_y = dict(showgrid=False, zeroline=False, showline=True, mirror=True,
                linecolor="black", linewidth=1, ticks="outside", ticklen=4,
                tickcolor="black", tickfont=tickfont, automargin=False)
legend_style = dict(xanchor="left", yanchor="top", bgcolor="rgba(255,255,255,0.8)",
                    bordercolor="#cccccc", borderwidth=1, traceorder="grouped",
                    tracegroupgap=2, itemwidth=40,
                    font=dict(family=FONT, size=15.5, color="black"))

fig.update_layout(
    width=W, height=H, margin=dict(l=0, r=0, t=0, b=0, autoexpand=False),
    paper_bgcolor="white", plot_bgcolor="white",
    xaxis=dict(common_x, anchor="y", tickvals=mag_ticks, ticklabelstandoff=4, title=xtitle_d),
    xaxis2=dict(common_x, anchor="y2", tickvals=mag_ticks, ticklabelstandoff=4, title=xtitle_d),
    xaxis3=dict(common_x, anchor="y", overlaying="x", side="top",
                tickvals=dist_mag, ticktext=dist_labels),
    xaxis4=dict(common_x, anchor="y2", overlaying="x2", side="top",
                tickvals=dist_mag, ticktext=dist_labels),
    yaxis=dict(common_y, range=[0, 0.5], domain=ya_dom, anchor="x",
               tickvals=sigma_ticks_a, tickformat=".1f",
               title=dict(text=ytitle, font=dict(family=FONT, size=22, color="black"), standoff=12)),
    yaxis2=dict(common_y, range=[0, 0.3], domain=yb_dom, anchor="x2",
                tickvals=sigma_ticks_b, tickformat=".2f",
                title=dict(text=ytitle, font=dict(family=FONT, size=22, color="black"), standoff=4)),
    legend=dict(legend_style, x=81 / W, y=1 - 190 / H),
    legend2=dict(legend_style, x=81 / W, y=1 - 609 / H),
    font=dict(family=FONT),
)

notes = [
    ("Distance (kpc)", 591 / W, 1 - 14 / H, "center"),
    ("Distance (kpc)", 591 / W, 1 - 514 / H, "center"),
    ("All A-stars", 95 / W, 1 - 79 / H, "left"),
    ("BHB stars", 95 / W, 1 - 578 / H, "left"),
]
for text, x, y, anchor in notes:
    fig.add_annotation(text=text, x=x, y=y, xref="paper", yref="paper", showarrow=False,
                       xanchor=anchor, yanchor="middle",
                       font=dict(family=FONT, size=21, color="black"))

fig.write_html("out.html")
